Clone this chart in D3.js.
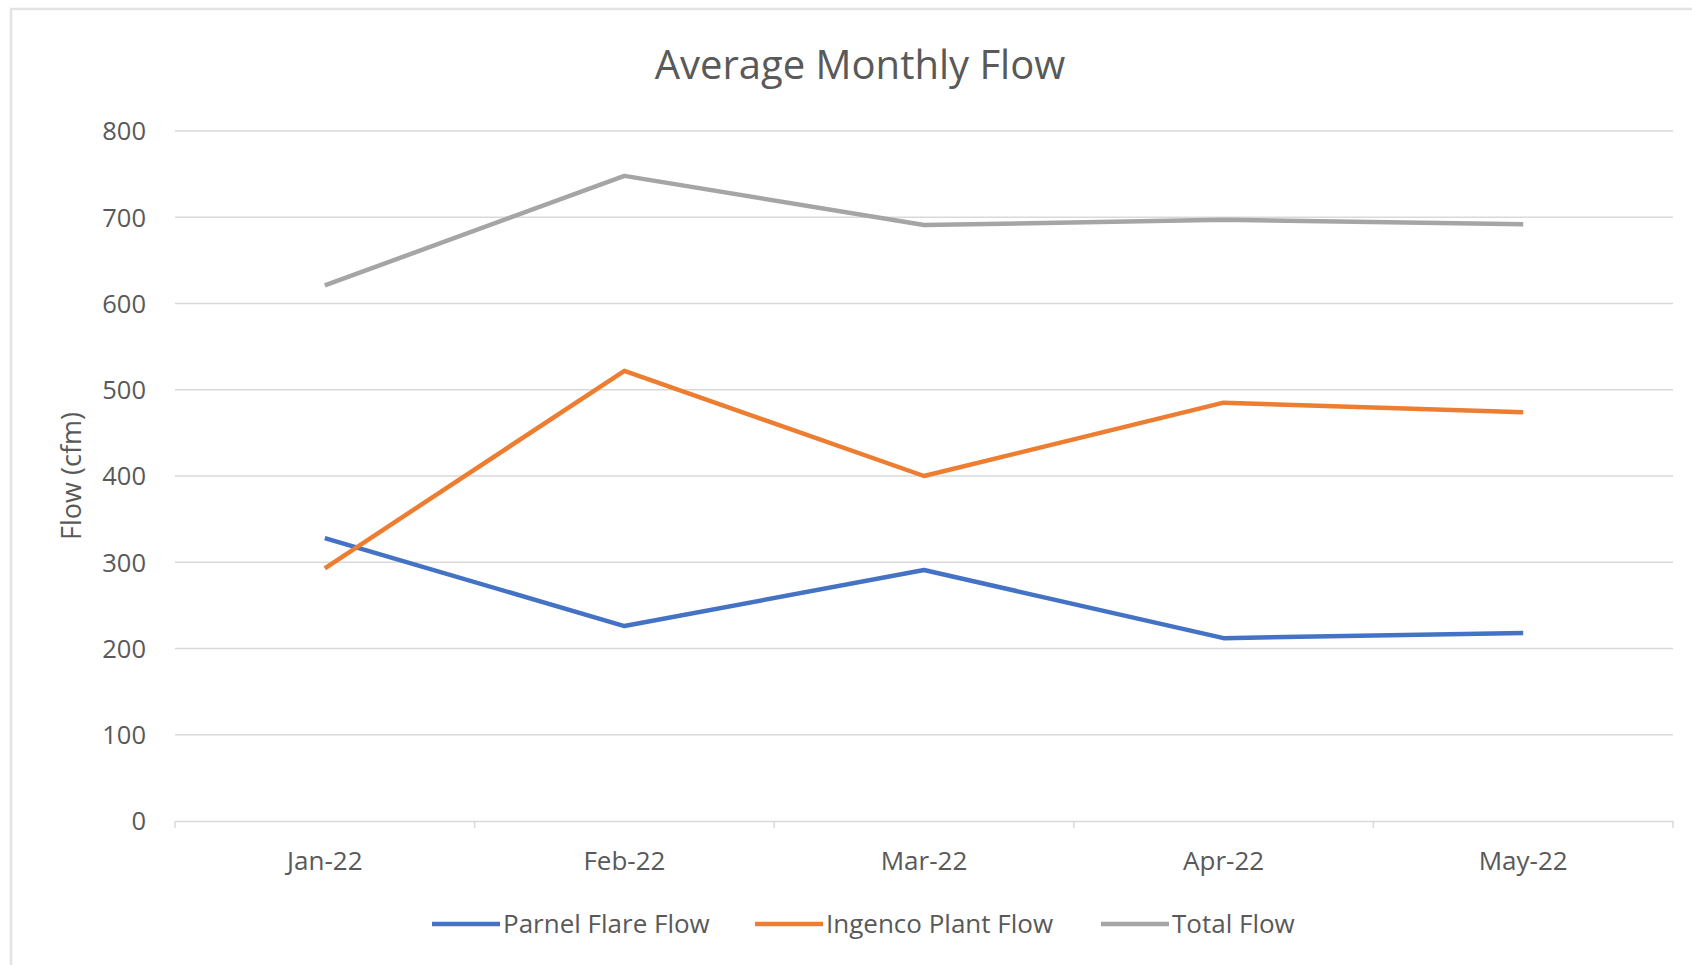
<!DOCTYPE html>
<html><head><meta charset="utf-8">
<script src="https://cdn.jsdelivr.net/npm/d3@7"></script>
<style>
html,body{margin:0;padding:0;background:#fff;}
svg{display:block;}
text{font-family:"Open Sans","Liberation Sans",sans-serif;fill:#595959;}
</style></head>
<body>
<svg id="chart" width="1692" height="965"></svg>
<script>
const categories = ["Jan-22","Feb-22","Mar-22","Apr-22","May-22"];
const parnelFlare = [328,226,291,212,218];
const ingencoPlant = [293,522,400,485,474];
const totalFlow = [621,748,691,697,692];
const yTicks = [0,100,200,300,400,500,600,700,800];
const seriesNames = ["Parnel Flare Flow","Ingenco Plant Flow","Total Flow"];
const seriesColors = ["#4472C4","#ED7D31","#A5A5A5"];

const series = [parnelFlare, ingencoPlant, totalFlow].map((v,i)=>({name:seriesNames[i],color:seriesColors[i],values:v}));

const svg = d3.select("#chart");
const W=1692,H=965;
const mLeft=175,mRight=1673,mTop=131,mBottom=821;

// chart border
svg.append("rect").attr("x",11).attr("y",9).attr("width",W+20).attr("height",H+20)
  .attr("fill","#fff").attr("stroke","#E3E3E3").attr("stroke-width",2.5);

const x = d3.scaleBand().domain(categories).range([mLeft,mRight]).padding(0);
const y = d3.scaleLinear().domain([0,800]).range([mBottom,mTop]);

// gridlines
svg.append("g").selectAll("line").data(yTicks.filter(d=>d>0)).join("line")
  .attr("x1",mLeft).attr("x2",mRight).attr("y1",d=>y(d)).attr("y2",d=>y(d))
  .attr("stroke","#D9D9D9").attr("stroke-width",1.5);

// y axis labels
const yAxis = d3.axisLeft(y).tickValues(yTicks).tickSize(0).tickPadding(0);
const gy = svg.append("g").attr("transform",`translate(146,0)`).call(yAxis);
gy.select(".domain").remove();
gy.selectAll("text").style("font-size","25.5px").attr("fill","#595959").attr("dy","0.35em");

// x axis
const xAxis = d3.axisBottom(x).tickSize(0).tickPadding(0);
const gx = svg.append("g").attr("transform",`translate(0,${mBottom})`).call(xAxis);
gx.select(".domain").attr("stroke","#D9D9D9").attr("stroke-width",1.5);
gx.selectAll("text").style("font-size","26px").attr("fill","#595959").attr("y",49).attr("dy","0");
const bounds = categories.map(c=>x(c)).concat([x(categories[categories.length-1])+x.bandwidth()]);
gx.selectAll("line.bt").data(bounds).join("line").attr("class","bt")
  .attr("x1",d=>d).attr("x2",d=>d).attr("y1",0).attr("y2",7)
  .attr("stroke","#D9D9D9").attr("stroke-width",1.5);

// lines
const line = d3.line().x((d,i)=>x(categories[i])+x.bandwidth()/2).y(d=>y(d));
svg.append("g").selectAll("path").data(series).join("path")
  .attr("d",d=>line(d.values)).attr("fill","none")
  .attr("stroke",d=>d.color).attr("stroke-width",4.5).attr("stroke-linejoin","round").attr("stroke-linecap","butt");

// title
svg.append("text").attr("x",860).attr("y",79).attr("text-anchor","middle")
  .style("font-size","40px").text("Average Monthly Flow");

// y title
svg.append("text").attr("transform",`translate(72,476) rotate(-90)`)
  .attr("text-anchor","middle").attr("dy","0.35em").style("font-size","27px").text("Flow (cfm)");

// legend
const legendX = [432,755,1101];
const lg = svg.append("g").selectAll("g").data(series).join("g")
  .attr("transform",(d,i)=>`translate(${legendX[i]},924)`);
lg.append("line").attr("x1",0).attr("x2",68).attr("y1",0).attr("y2",0)
  .attr("stroke",d=>d.color).attr("stroke-width",4.5);
lg.append("text").attr("x",71).attr("dy","0.35em").style("font-size","26px").text(d=>d.name);
</script>
</body></html>
